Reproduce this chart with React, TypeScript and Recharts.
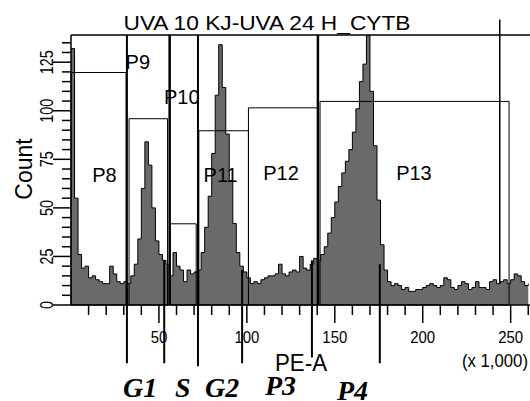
import React from 'react';
import {
  ComposedChart, Area, XAxis, YAxis, ReferenceArea, ReferenceLine, ReferenceDot,
} from 'recharts';

// PE-A histogram, bins of 2 (x 1,000), counts
const BIN_WIDTH = 2;
const COUNTS = [
  132, 55, 26, 19, 20, 14, 15, 13, 12, 11,
  11, 20, 16, 12, 11, 12, 11, 15, 21, 34,
  60, 84, 72, 50, 33, 26, 23, 21, 15, 27,
  20, 18, 12, 18, 16, 17, 18, 27, 40, 56,
  78, 108, 134, 112, 88, 64, 42, 27, 20, 17,
  14, 11, 12, 11, 13, 14, 15, 15, 16, 21,
  16, 15, 17, 18, 17, 25, 19, 18, 21, 24,
  23, 26, 30, 37, 45, 53, 61, 68, 74, 80,
  89, 101, 115, 124, 139, 110, 82, 54, 31, 18,
  12, 10, 11, 10, 8, 9, 7, 7, 8, 8,
  9, 10, 11, 10, 9, 10, 14, 13, 9, 8,
  10, 12, 11, 8, 9, 12, 9, 9, 8, 12,
  13, 11, 12, 13, 11, 13, 16, 15, 12, 10,
  11,
];

const X_MAX = 261;
const Y_MAX = 139;
const X_TICKS = [10, 20, 30, 40, 50, 60, 70, 80, 90, 100, 110, 120, 130, 140, 150, 160, 170, 180, 190, 200, 210, 220, 230, 240, 250, 260];
const Y_TICKS = [0, 5, 10, 15, 20, 25, 30, 35, 40, 45, 50, 55, 60, 65, 70, 75, 80, 85, 90, 95, 100, 105, 110, 115, 120, 125, 130, 135];

// gates
const GATE_NAMES = ['P8', 'P9', 'P10', 'P11', 'P12', 'P13'];
const GATE_X1 = [0, 33.0, 56.4, 72.7, 100.9, 141.6];
const GATE_X2 = [31.3, 54.9, 71.2, 100.9, 140.4, 249.1];
const GATE_TOP = [119.7, 95.9, 41.8, 89.7, 101.5, 104.8];
const GATE_LABEL_X = [19, 38, 63, 85.1, 119.4, 195];
const GATE_LABEL_Y = [67, 125, 107, 67, 68, 68];

// thick gate dividers
const DIVIDERS = [56.1, 140.4];

// cell cycle marker lines (extend below axis)
const PHASE_X = [31.8, 53.0, 72.2, 97.3, 137.0, 175.6];
const PHASE_FROM = [139, 23, 139, 18, 23, 21];
const PHASE_TO = [-30, -30, -31.5, -30, -27, -30];
const EXTRA_X = 243.8;
const EXTRA_FROM = 147;
const EXTRA_TO = 11;

const PHASE_LABELS = ['G1', 'S', 'G2', 'P3', 'P4'];
const PHASE_LABEL_POS = [[123, 397], [175, 397], [205, 397], [265, 395], [337, 400]];

const PLOT_LEFT = 71;
const PLOT_BOTTOM = 305;

const data = COUNTS.map((c, i) => ({ x: i * BIN_WIDTH, count: c }));

const XTick = (props: any) => {
  const { x, payload } = props;
  const v = payload.value;
  const major = v % 50 === 0;
  return (
    <g>
      <line x1={x} x2={x} y1={PLOT_BOTTOM} y2={PLOT_BOTTOM + (major ? 18 : 10)} stroke="#000" strokeWidth={1.5} />
      {major && (
        <text x={x} y={343} textAnchor="middle" fontSize={17} fill="#000"
          textLength={String(v).length * 8.3} lengthAdjust="spacingAndGlyphs">{v}</text>
      )}
    </g>
  );
};

const YTick = (props: any) => {
  const { y, payload } = props;
  const v = payload.value;
  const major = v % 25 === 0;
  return (
    <g>
      <line x1={PLOT_LEFT - (major ? 18 : 9)} x2={PLOT_LEFT} y1={y} y2={y} stroke="#000" strokeWidth={1.5} />
      {major && (
        <text transform={`translate(53,${y}) rotate(-90)`} textAnchor="middle" fontSize={19} fill="#000"
          textLength={String(v).length * 8} lengthAdjust="spacingAndGlyphs">{v}</text>
      )}
    </g>
  );
};

export default function App() {
  return (
    <div style={{ position: 'absolute', left: 0, top: 0, width: 530, height: 401, background: '#fff', fontFamily: '"Liberation Sans", Arial, sans-serif', overflow: 'hidden' }}>
      <ComposedChart width={530} height={401} data={data} margin={{ top: 35, right: 0, left: 0, bottom: 0 }}>
        <XAxis dataKey="x" type="number" domain={[0, X_MAX]} ticks={X_TICKS} interval={0}
          tick={<XTick />} tickLine={false} height={96} axisLine={{ stroke: '#000', strokeWidth: 1.5 }} allowDataOverflow />
        <YAxis type="number" domain={[0, Y_MAX]} ticks={Y_TICKS} interval={0}
          tick={<YTick />} tickLine={false} width={71} axisLine={{ stroke: '#000', strokeWidth: 1.5 }} allowDataOverflow />
        <Area type="stepAfter" dataKey="count" fill="#6a6a6a" fillOpacity={1} stroke="#000" strokeWidth={1} isAnimationActive={false} />
        <ReferenceLine y={Y_MAX} stroke="#000" strokeWidth={1.5} />
        {GATE_NAMES.map((g, i) => (
          <ReferenceArea key={g} x1={GATE_X1[i]} x2={GATE_X2[i]} y1={0} y2={GATE_TOP[i]}
            fill="none" fillOpacity={0} stroke="#000" strokeWidth={1} ifOverflow="visible" />
        ))}
        {DIVIDERS.map((d) => (
          <ReferenceLine key={d} x={d} stroke="#000" strokeWidth={2.5} />
        ))}
        {PHASE_X.map((px, i) => (
          <ReferenceLine key={`ph${i}`} segment={[{ x: px, y: PHASE_FROM[i] }, { x: px, y: PHASE_TO[i] }]}
            stroke="#000" strokeWidth={2} ifOverflow="visible" />
        ))}
        <ReferenceLine segment={[{ x: EXTRA_X, y: EXTRA_FROM }, { x: EXTRA_X, y: EXTRA_TO }]}
          stroke="#000" strokeWidth={1.5} ifOverflow="visible" />
        {GATE_NAMES.map((g, i) => (
          <ReferenceDot key={`lb${g}`} x={GATE_LABEL_X[i]} y={GATE_LABEL_Y[i]} r={0} fill="none" stroke="none"
            label={{ value: g, position: 'center', fontSize: 20, fill: '#000' }} />
        ))}
      </ComposedChart>
      <svg width={530} height={401} style={{ position: 'absolute', left: 0, top: 0, pointerEvents: 'none' }}>
        <text x={267} y={30} textAnchor="middle" fontSize={21} fill="#000" textLength={287} lengthAdjust="spacingAndGlyphs">UVA 10 KJ-UVA 24 H_CYTB</text>
        <text transform="translate(32,169) rotate(-90)" textAnchor="middle" fontSize={23} fill="#000">Count</text>
        <text x={301} y={371} textAnchor="middle" fontSize={23} fill="#000" textLength={52} lengthAdjust="spacingAndGlyphs">PE-A</text>
        <text x={462} y={367} fontSize={18} fill="#000" textLength={66} lengthAdjust="spacingAndGlyphs">(x 1,000)</text>
        {PHASE_LABELS.map((t, i) => (
          <text key={t} x={PHASE_LABEL_POS[i][0]} y={PHASE_LABEL_POS[i][1]} fontSize={28} fontWeight="bold" fontStyle="italic"
            fontFamily='"Liberation Serif", serif' fill="#000">{t}</text>
        ))}
      </svg>
    </div>
  );
}
